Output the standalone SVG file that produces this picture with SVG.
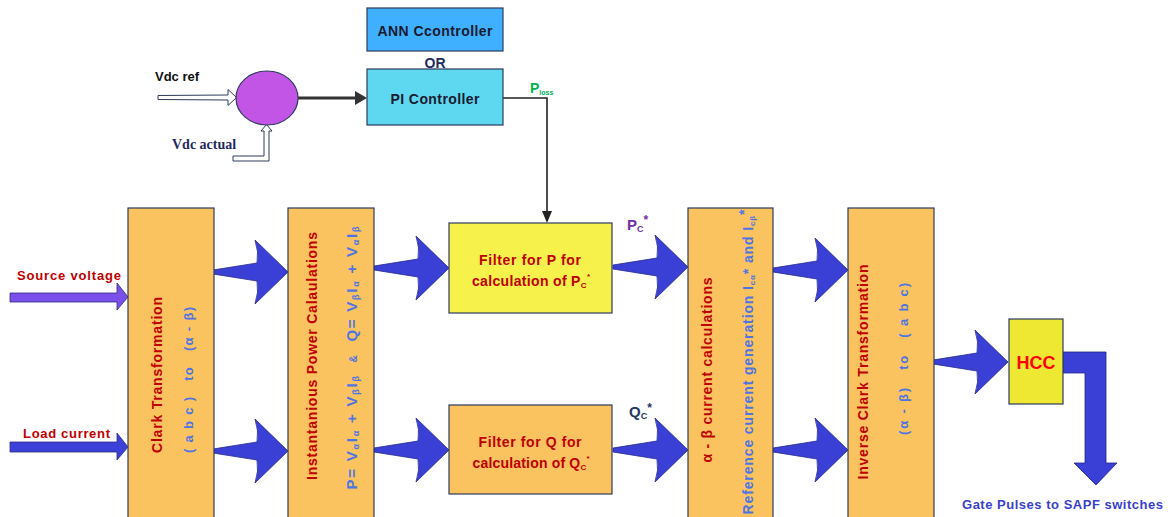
<svg xmlns="http://www.w3.org/2000/svg" width="1168" height="517" viewBox="0 0 1168 517">
  <defs>
    <style>
      .box{stroke:#2E3B5E;stroke-width:1.2}
      .orange{fill:#FAC35F}
      .t{font-family:"Liberation Sans",Arial,sans-serif;font-weight:bold}
      .red{fill:#C00000}
      .blue{fill:#4E74E2}
      .barrow{fill:#3A40D6;stroke:#23268A;stroke-width:0.8}
      .thin{fill:none;stroke:#222;stroke-width:1.6}
    </style>
    <!-- swept block arrow, tip at origin pointing right -->
    <path id="fat" d="M-75,-2 L-31,-9 Q-29,-20 -33,-32 L0,0 L-33,32 Q-29,20 -31,9 L-75,2 Z"/>
  </defs>

  <rect width="1168" height="517" fill="#FFFFFF"/>

  <!-- connectors -->
  <g id="connectors">
    <!-- Vdc ref hollow arrow -->
    <path d="M158,95.5 L228,95 L228,89.5 L236.5,97.5 L228,105.5 L228,100 L158,99.5 Z" fill="#FFFFFF" stroke="#2E3B5E" stroke-width="1"/>
    <!-- Vdc actual hollow arrow -->
    <path d="M233,156 L264,156 L264,131 L261,131 L266.5,124.5 L272,131 L269,131 L269,161 L233,161 Z" fill="#FFFFFF" stroke="#2E3B5E" stroke-width="1"/>
    <!-- summing junction to PI -->
    <line x1="298" y1="98" x2="357" y2="98" stroke="#333" stroke-width="3"/>
    <polygon points="355,91 367,98 355,105" fill="#333"/>
    <!-- Ploss feed to P filter -->
    <polyline class="thin" points="503,98 547,98 547,212"/>
    <polygon points="542,211 547,223 552,211" fill="#222"/>

    <!-- input arrows -->
    <polygon points="10,293 117,293 117,283 128,297 117,310 117,302 10,302" fill="#7A4FEA" stroke="#2E2E80" stroke-width="0.8"/>
    <polygon points="10,442 117,442 117,433 128,447 117,460 117,452 10,452" fill="#3B40D8" stroke="#2E2E80" stroke-width="0.8"/>

    <!-- stage to stage arrows -->
    <use href="#fat" class="barrow" transform="translate(288,272)"/>
    <use href="#fat" class="barrow" transform="translate(288,451)"/>
    <use href="#fat" class="barrow" transform="translate(449,268)"/>
    <use href="#fat" class="barrow" transform="translate(449,450)"/>
    <use href="#fat" class="barrow" transform="translate(688,267)"/>
    <use href="#fat" class="barrow" transform="translate(688,450)"/>
    <use href="#fat" class="barrow" transform="translate(848,270)"/>
    <use href="#fat" class="barrow" transform="translate(848,450)"/>
    <use href="#fat" class="barrow" transform="translate(1008,362)"/>

    <!-- HCC output bent arrow -->
    <polygon points="1063,352 1106,352 1106,463 1117,463 1096,485 1074,463 1085,463 1085,373 1063,373" class="barrow"/>
  </g>

  <!-- labels outside nodes -->
  <g id="labels">
    <text class="t" x="155" y="81" font-size="13" fill="#111">Vdc ref</text>
    <text x="172" y="149" font-size="14" font-weight="bold" font-family="'Liberation Serif','Times New Roman',serif" fill="#1F2A60">Vdc actual</text>
    <text class="t" x="530" y="93" font-size="14" fill="#00B050">P<tspan font-size="7" dy="2">loss</tspan></text>
    <text class="t red" x="17" y="280" font-size="13" textLength="104">Source voltage</text>
    <text class="t red" x="23" y="438" font-size="13" textLength="87">Load current</text>
    <text class="t" x="627" y="230" font-size="15" fill="#7030A0">P<tspan font-size="9" dy="2">C</tspan><tspan font-size="12" dy="-8">*</tspan></text>
    <text class="t" x="629" y="417" font-size="15" fill="#1F3864">Q<tspan font-size="9" dy="2">C</tspan><tspan font-size="12" dy="-7">*</tspan></text>
    <text class="t" x="962" y="509" font-size="13" fill="#3A3FD0" textLength="201">Gate Pulses to SAPF switches</text>
  </g>

  <!-- controller section -->
  <g id="ann">
    <rect x="367" y="8" width="136" height="43" fill="#3FB0FF" class="box"/>
    <text class="t" x="435" y="36" font-size="14" fill="#1A1A2E" text-anchor="middle" textLength="115">ANN Ccontroller</text>
  </g>
  <g id="or">
    <text class="t" x="435" y="68" font-size="14" fill="#1F2A60" text-anchor="middle">OR</text>
  </g>
  <g id="pi">
    <rect x="367" y="69" width="136" height="56" fill="#5DD8F0" class="box"/>
    <text class="t" x="435" y="104" font-size="14" fill="#1A1A2E" text-anchor="middle" textLength="89">PI Controller</text>
  </g>
  <g id="sum">
    <ellipse cx="267" cy="98" rx="31" ry="27" fill="#C255E6" stroke="#2E3B5E" stroke-width="1.2"/>
  </g>

  <!-- processing chain -->
  <g id="clark">
    <rect x="128" y="208" width="86" height="315" class="box orange"/>
    <text class="t red" font-size="14" text-anchor="middle" transform="translate(162,375) rotate(-90)" textLength="156">Clark Transformation</text>
    <text class="t blue" font-size="13" text-anchor="middle" xml:space="preserve" transform="translate(193,380) rotate(-90)" textLength="146">( a b c )   to   (α - β)</text>
  </g>

  <g id="power">
    <rect x="288" y="208" width="86" height="315" class="box orange"/>
    <text class="t red" font-size="14" text-anchor="middle" transform="translate(317,356) rotate(-90)" textLength="248">Instantanious Power Calaulations</text>
    <text class="t blue" font-size="15" text-anchor="middle" xml:space="preserve" transform="translate(357,358) rotate(-90)" textLength="263">P= V<tspan font-size="9" dy="2">α</tspan><tspan dy="-2">I</tspan><tspan font-size="9" dy="2">α</tspan><tspan dy="-2"> + V</tspan><tspan font-size="9" dy="2">β</tspan><tspan dy="-2">I</tspan><tspan font-size="9" dy="2">β</tspan><tspan dy="-2">  </tspan><tspan font-size="10">&amp;</tspan><tspan>  Q= V</tspan><tspan font-size="9" dy="2">β</tspan><tspan dy="-2">I</tspan><tspan font-size="9" dy="2">α</tspan><tspan dy="-2"> + V</tspan><tspan font-size="9" dy="2">α</tspan><tspan dy="-2">I</tspan><tspan font-size="9" dy="2">β</tspan></text>
  </g>

  <g id="filter-p">
    <rect x="449" y="223" width="163" height="90" fill="#F6F24B" class="box"/>
    <text class="t red" x="530" y="265" font-size="14" text-anchor="middle" textLength="102">Filter for P for</text>
    <text class="t red" x="531" y="286" font-size="14" text-anchor="middle" textLength="118">calculation of P<tspan font-size="8" dy="2">C</tspan><tspan font-size="8" dy="-9">*</tspan></text>
  </g>

  <g id="filter-q">
    <rect x="449" y="405" width="163" height="89" class="box orange"/>
    <text class="t red" x="530" y="447" font-size="14" text-anchor="middle" textLength="103">Filter for Q for</text>
    <text class="t red" x="531" y="468" font-size="14" text-anchor="middle" textLength="117">calculation of Q<tspan font-size="8" dy="2">C</tspan><tspan font-size="8" dy="-9">*</tspan></text>
  </g>

  <g id="ab-current">
    <rect x="688" y="208" width="85" height="315" class="box orange"/>
    <text class="t red" font-size="14" text-anchor="middle" transform="translate(712,370) rotate(-90)" textLength="185">α - β current calculations</text>
    <text class="t blue" font-size="14" text-anchor="middle" transform="translate(753,362) rotate(-90)" textLength="305">Reference current generation I<tspan font-size="8" dy="2">cα</tspan><tspan dy="-2">* and I</tspan><tspan font-size="8" dy="2">cβ</tspan><tspan dy="-6">*</tspan></text>
  </g>

  <g id="inverse-clark">
    <rect x="848" y="208" width="86" height="315" class="box orange"/>
    <text class="t red" font-size="14" text-anchor="middle" transform="translate(868,372) rotate(-90)" textLength="215">Inverse Clark Transformation</text>
    <text class="t blue" font-size="13" text-anchor="middle" xml:space="preserve" transform="translate(908,359) rotate(-90)" textLength="152">(α - β)   to   ( a b c)</text>
  </g>

  <g id="hcc">
    <rect x="1009" y="319" width="54" height="85" fill="#EEE833" class="box"/>
    <text class="t" x="1036" y="369" font-size="18" fill="#FF0000" text-anchor="middle">HCC</text>
  </g>
</svg>
